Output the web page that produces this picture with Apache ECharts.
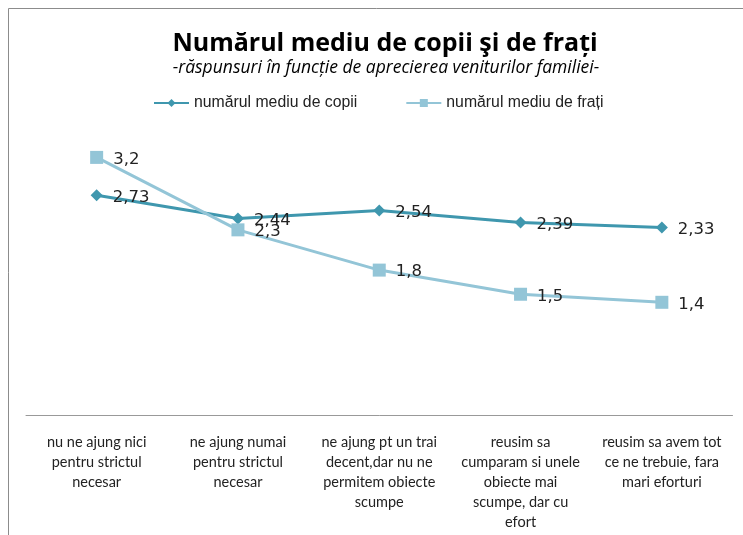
<!DOCTYPE html>
<html><head><meta charset="utf-8">
<script src="https://cdn.jsdelivr.net/npm/echarts@6/dist/echarts.min.js"></script>
<style>html,body{margin:0;padding:0;background:#fff}#c{width:743px;height:535px}</style>
</head><body><div id="c"></div>
<script>
const categories = [
  "nu ne ajung nici\npentru strictul\nnecesar",
  "ne ajung numai\npentru strictul\nnecesar",
  "ne ajung pt un trai\ndecent,dar nu ne\npermitem obiecte\nscumpe",
  "reusim sa\ncumparam si unele\nobiecte mai\nscumpe, dar cu\nefort",
  "reusim sa avem tot\nce ne trebuie, fara\nmari eforturi"
];
const copii = [2.73, 2.44, 2.54, 2.39, 2.33];
const frati = [3.2, 2.3, 1.8, 1.5, 1.4];
const seriesNames = ["numărul mediu de copii", "numărul mediu de frați"];
const titleText = "Numărul mediu de copii şi de frați";
const subtitleText = "-răspunsuri în funcție de aprecierea veniturilor familiei-";

const chart = echarts.init(document.getElementById('c'));
const fmt = p => String(p.value).replace('.', ',');
chart.setOption({
  animation: false,
  title: [
    {text: titleText, left: 380, top: 26, textAlign: 'center',
     textStyle: {fontFamily: 'Open Sans', fontWeight: 'bold', fontSize: 25, color: '#000'}},
    {text: subtitleText, left: 381, top: 54, textAlign: 'center',
     textStyle: {fontFamily: 'Open Sans', fontStyle: 'italic', fontWeight: 'normal', fontSize: 17.5, color: '#000'}}
  ],
  graphic: [{type: 'polyline', shape: {points: [[8.5, 540], [8.5, 8.5], [750, 8.5]]},
    style: {stroke: '#8c8c8c', lineWidth: 1, fill: null}, silent: true}],
  legend: {
    top: 90, left: 148, itemGap: 48, itemWidth: 35, itemHeight: 10,
    textStyle: {fontFamily: 'Liberation Sans', fontSize: 15.8, color: '#222'},
    data: seriesNames
  },
  grid: {left: 26, right: 10.5, top: 93, bottom: 120, containLabel: false},
  xAxis: {
    type: 'category', data: categories, boundaryGap: true,
    axisLine: {lineStyle: {color: '#999', width: 1}},
    axisTick: {show: false},
    axisLabel: {interval: 0, margin: 17, lineHeight: 20, fontFamily: 'Lato', fontSize: 14.5, color: '#222', align: 'center'}
  },
  yAxis: {type: 'value', min: 0, max: 4, show: false, splitLine: {show: false}},
  series: [
    {name: seriesNames[0], type: 'line', data: copii, symbol: 'diamond', symbolSize: 12,
     lineStyle: {width: 3, color: '#3f97ae'}, itemStyle: {color: '#3f97ae'},
     label: {show: true, position: 'right', distance: 10, offset: [0, 2], formatter: fmt, fontFamily: 'DejaVu Sans', fontSize: 16.5, color: '#222'}},
    {name: seriesNames[1], type: 'line', data: frati, symbol: 'rect', symbolSize: 13,
     lineStyle: {width: 3, color: '#93c5d7'}, itemStyle: {color: '#93c5d7'},
     label: {show: true, position: 'right', distance: 10, offset: [0, 2], formatter: fmt, fontFamily: 'DejaVu Sans', fontSize: 16.5, color: '#222'}}
  ]
});
</script></body></html>
